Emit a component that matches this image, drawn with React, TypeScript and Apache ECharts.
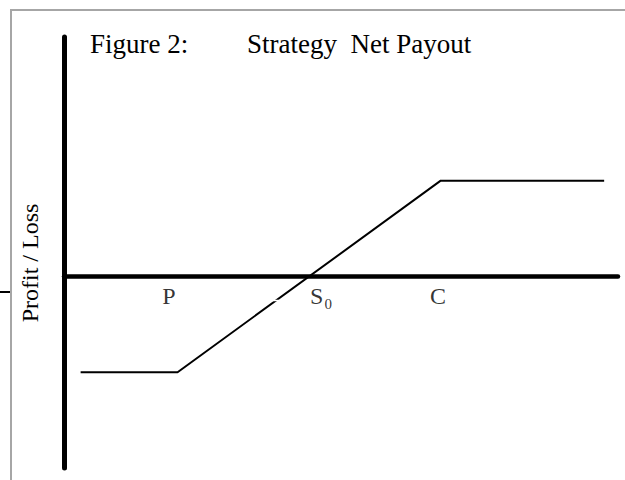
import React, { useEffect, useRef } from "react";
import * as echarts from "echarts";

// Payoff profile (x: underlying price units, y: profit/loss units)
const payoffX = [3, 20.5, 68, 97.5];
const payoffY = [-1, -1, 1, 1];

// Strike / spot labels below the axis
const strikeNames = ["P", "S", "C"];
const strikeX = [18.95, 45.6, 67.5];
const strikeY = [-0.2, -0.2, -0.2];
const subscriptText = "0";
const subscriptX = 47.7;
const subscriptY = -0.287;

const titleLeft = "Figure 2:";
const titleRight = "Strategy  Net Payout";
const yName = "Profit / Loss";

const SERIF = "'Liberation Serif', 'Times New Roman', serif";

export default function App() {
  const ref = useRef<HTMLDivElement>(null);
  useEffect(() => {
    if (!ref.current) return;
    const chart = echarts.init(ref.current, undefined, { renderer: "svg" });
    const lineData = payoffX.map((x, i) => [x, payoffY[i]]);
    const labelData = strikeNames.map((n, i) => ({
      value: [strikeX[i], strikeY[i]],
      name: n,
    }));
    chart.setOption({
      animation: false,
      backgroundColor: "#ffffff",
      title: [
        {
          text: titleLeft,
          left: 90,
          top: 30,
          padding: 0,
          textStyle: { fontFamily: SERIF, fontSize: 27, fontWeight: "normal", color: "#000" },
        },
        {
          text: titleRight,
          left: 247,
          top: 30,
          padding: 0,
          textStyle: { fontFamily: SERIF, fontSize: 27, fontWeight: "normal", color: "#000" },
        },
      ],
      grid: { left: 64, right: 7, top: 37, bottom: 12, containLabel: false },
      xAxis: {
        type: "value",
        min: 0,
        max: 100,
        axisLine: { show: true, onZero: true, lineStyle: { color: "#000", width: 4.5 } },
        axisTick: { show: false },
        axisLabel: { show: false },
        splitLine: { show: false },
      },
      yAxis: {
        type: "value",
        min: -2,
        max: 2.5,
        axisLine: { show: true, onZero: false, lineStyle: { color: "#000", width: 5 } },
        axisTick: { show: false },
        axisLabel: { show: false },
        splitLine: { show: false },
      },
      series: [
        {
          type: "line",
          data: lineData,
          symbol: "none",
          lineStyle: { color: "#000", width: 2 },
          z: 3,
        },
        {
          type: "scatter",
          data: labelData,
          symbolSize: 0,
          silent: true,
          label: {
            show: true,
            position: "inside",
            formatter: (p: any) => p.name,
            fontFamily: SERIF,
            fontSize: 24,
            color: "#000",
          },
        },
        {
          type: "scatter",
          data: [{ value: [subscriptX, subscriptY], name: subscriptText }],
          symbolSize: 0,
          silent: true,
          label: {
            show: true,
            position: "inside",
            formatter: (p: any) => p.name,
            fontFamily: SERIF,
            fontSize: 15,
            color: "#000",
          },
        },
      ],
      graphic: [
        {
          type: "polyline",
          shape: { points: [[11, 480], [11, 10], [625, 10]] },
          style: { stroke: "#a6a6a6", lineWidth: 2, fill: "none" },
          silent: true,
        },
        {
          type: "line",
          shape: { x1: 0, y1: 292, x2: 10, y2: 292 },
          style: { stroke: "#000", lineWidth: 2 },
          silent: true,
        },
        {
          type: "line",
          shape: { x1: 272, y1: 300.5, x2: 279, y2: 300.5 },
          style: { stroke: "#fff", lineWidth: 1.5 },
          silent: true,
          z: 100,
        },
        {
          type: "text",
          x: 42,
          y: 263,
          rotation: Math.PI / 2,
          style: {
            text: yName,
            fontFamily: SERIF,
            fontSize: 24,
            fill: "#000",
            align: "center",
            verticalAlign: "bottom",
          },
          silent: true,
        },
      ],
    });
    return () => chart.dispose();
  }, []);
  return (
    <div
      ref={ref}
      style={{ position: "absolute", left: 0, top: 0, width: 625, height: 480 }}
    />
  );
}
